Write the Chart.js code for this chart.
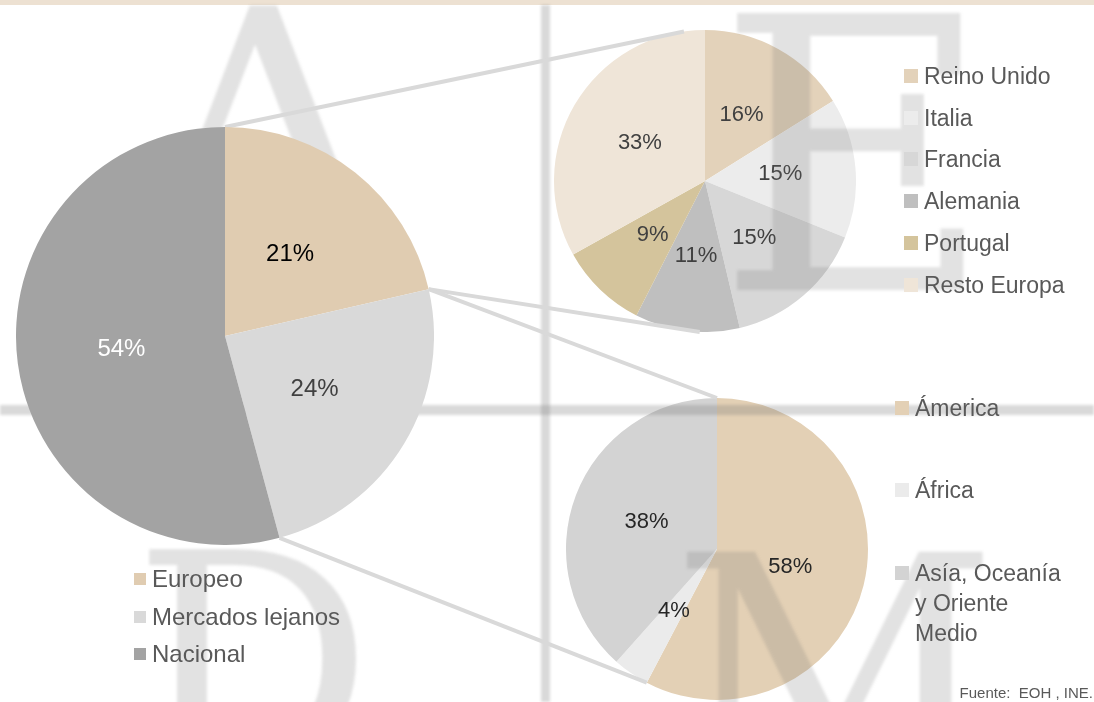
<!DOCTYPE html>
<html>
<head>
<meta charset="utf-8">
<script src="https://cdn.jsdelivr.net/npm/chart.js@4.4.0/dist/chart.umd.min.js"></script>
<style>
html, body { margin: 0; padding: 0; background: #fff; }
#stage { position: relative; width: 1094px; height: 702px; overflow: hidden; font-family: 'Liberation Sans', Arial, sans-serif; }
canvas.layer { position: absolute; left: 0; top: 0; }
.pie { position: absolute; }
.item { position: absolute; color: #595959; display: flex; align-items: flex-start; }
.sq { flex: none; }
.fuente { position: absolute; right: 1px; top: 684px; font-size: 15px; color: #595959; white-space: pre; z-index: 6; }
</style>
</head>
<body>
<div id="stage">
  <canvas class="layer" id="bg" width="1094" height="702" style="z-index:0"></canvas>
  <div class="pie" id="euroBox" style="left:554px;top:30px;width:302px;height:302px;z-index:1"><canvas id="euroPie"></canvas></div>
  <div class="pie" id="farBox" style="left:566px;top:398px;width:302px;height:302px;z-index:1"><canvas id="farPie"></canvas></div>
  <canvas class="layer" id="mark" width="1094" height="702" style="z-index:2"></canvas>
  <canvas class="layer" id="links" width="1094" height="702" style="z-index:3"></canvas>
  <div class="pie" id="mainBox" style="left:16px;top:127px;width:418px;height:418px;z-index:4"><canvas id="mainPie"></canvas></div>
  <div class="fuente">Fuente:  EOH , INE.</div>
</div>
<script>
// datos
const mainLabels = ['Europeo', 'Mercados lejanos', 'Nacional'];
const mainValues = [21.4, 24.4, 54.2];
const mainColors = ['#E0CCB1', '#D9D9D9', '#A3A3A3'];

const euroLabels = ['Reino Unido', 'Italia', 'Francia', 'Alemania', 'Portugal', 'Resto Europa'];
const euroValues = [16.1, 15.0, 15.2, 11.2, 9.4, 33.1];
const euroColors = ['#E3D2BA', '#ECECEC', '#D7D7D7', '#BFBFBF', '#D4C49C', '#EFE5D8'];

const farLabels = ['Ámerica', 'África', 'Asía, Oceanía y Oriente Medio'];
const farValues = [57.7, 3.9, 38.4];
const farColors = ['#E3D0B5', '#EBEBEB', '#D3D3D3'];

const pctLabels = {
    id: 'pctLabels',
    afterDatasetsDraw(chart, args, opts) {
        const ctx = chart.ctx;
        const meta = chart.getDatasetMeta(0);
        const vals = chart.data.datasets[0].data;
        const total = vals.reduce((a, b) => a + b, 0);
        ctx.save();
        ctx.font = opts.font;
        ctx.textAlign = 'center';
        ctx.textBaseline = 'middle';
        meta.data.forEach((arc, i) => {
            const mid = (arc.startAngle + arc.endAngle) / 2;
            const r = arc.outerRadius * 0.5;
            ctx.fillStyle = opts.colors[i];
            ctx.fillText(Math.round(vals[i] / total * 100) + '%', arc.x + Math.cos(mid) * r, arc.y + Math.sin(mid) * r);
        });
        ctx.restore();
    }
};

function pieChart(id, labels, values, colors, font, textColors) {
    const ctx = document.getElementById(id).getContext('2d');
    return new Chart(ctx, {
        type: 'pie',
        data: {
            labels: labels,
            datasets: [{
                data: values,
                backgroundColor: colors,
                borderWidth: 0,
                hoverOffset: 0
            }]
        },
        options: {
            responsive: true,
            maintainAspectRatio: false,
            animation: false,
            events: [],
            layout: { padding: 0 },
            plugins: {
                legend: { display: false },
                tooltip: { enabled: false },
                pctLabels: { font: font, colors: textColors }
            }
        },
        plugins: [pctLabels]
    });
}

const mainChart = pieChart('mainPie', mainLabels, mainValues, mainColors,
    '24px "Liberation Sans", Arial, sans-serif', ['#000000', '#404040', '#FFFFFF']);
const euroChart = pieChart('euroPie', euroLabels, euroValues, euroColors,
    '22px "Liberation Sans", Arial, sans-serif', ['#404040', '#404040', '#404040', '#404040', '#404040', '#404040']);
const farChart = pieChart('farPie', farLabels, farValues, farColors,
    '22px "Liberation Sans", Arial, sans-serif', ['#262626', '#262626', '#262626']);

// fondo: banda superior
const bg = document.getElementById('bg').getContext('2d');
bg.fillStyle = '#EDE1D2';
bg.fillRect(0, 0, 1094, 5);

// marca de agua (logo difuminado)
const mk = document.getElementById('mark').getContext('2d');
mk.save();
mk.filter = 'blur(1.5px)';
mk.fillStyle = 'rgba(110,110,110,0.26)';
mk.fillRect(541, 5, 9, 697);
mk.fillRect(0, 405, 1094, 10);
mk.fillStyle = 'rgba(110,110,110,0.2)';
mk.textAlign = 'center';
mk.textBaseline = 'alphabetic';
mk.font = '330px "DejaVu Serif"';
mk.fillText('A', 264, 246);
mk.font = '380px "DejaVu Serif"';
mk.fillText('E', 855, 290);
mk.font = '300px "DejaVu Serif"';
mk.fillText('D', 253, 768);
mk.font = '320px "DejaVu Serif"';
mk.fillText('M', 835, 785);
mk.restore();

// líneas de conexión
function edgePoint(chart, box, angle) {
    const arc = chart.getDatasetMeta(0).data[0];
    const b = document.getElementById(box);
    return [b.offsetLeft + arc.x + Math.cos(angle) * arc.outerRadius,
            b.offsetTop + arc.y + Math.sin(angle) * arc.outerRadius];
}
const deg = d => (d - 90) * Math.PI / 180;
const mArcs = mainChart.getDatasetMeta(0).data;
const fArcs = farChart.getDatasetMeta(0).data;
const links = [
    [edgePoint(mainChart, 'mainBox', mArcs[0].startAngle), edgePoint(euroChart, 'euroBox', deg(-8))],
    [edgePoint(mainChart, 'mainBox', mArcs[0].endAngle), edgePoint(euroChart, 'euroBox', deg(182))],
    [edgePoint(mainChart, 'mainBox', mArcs[0].endAngle), edgePoint(farChart, 'farBox', fArcs[0].startAngle)],
    [edgePoint(mainChart, 'mainBox', mArcs[1].endAngle), edgePoint(farChart, 'farBox', fArcs[0].endAngle)]
];
const ln = document.getElementById('links').getContext('2d');
ln.strokeStyle = '#D9D9D9';
ln.lineWidth = 4;
links.forEach(([a, b]) => {
    ln.beginPath();
    ln.moveTo(a[0], a[1]);
    ln.lineTo(b[0], b[1]);
    ln.stroke();
});

// leyendas
const stage = document.getElementById('stage');
function legend(labels, colors, x, rows, sqSize, fontSize, lineH, maxW) {
    labels.forEach((lab, i) => {
        const it = document.createElement('div');
        it.className = 'item';
        it.style.left = x + 'px';
        it.style.top = (rows[i] - lineH / 2) + 'px';
        it.style.fontSize = fontSize + 'px';
        it.style.lineHeight = lineH + 'px';
        it.style.zIndex = 5;
        const sq = document.createElement('span');
        sq.className = 'sq';
        sq.style.width = sqSize + 'px';
        sq.style.height = sqSize + 'px';
        sq.style.marginTop = ((lineH - sqSize) / 2) + 'px';
        sq.style.marginRight = '6px';
        sq.style.background = colors[i];
        const tx = document.createElement('span');
        tx.textContent = lab;
        if (maxW) tx.style.width = maxW + 'px';
        it.appendChild(sq);
        it.appendChild(tx);
        stage.appendChild(it);
    });
}
legend(mainLabels, mainColors, 134, [579, 617, 654], 12, 24, 30);
legend(euroLabels, euroColors, 904, [76, 118, 159, 201, 243, 285], 14, 23, 30);
legend(farLabels, farColors, 895, [408, 490, 573], 14, 23, 30, 160);
</script>
</body>
</html>
